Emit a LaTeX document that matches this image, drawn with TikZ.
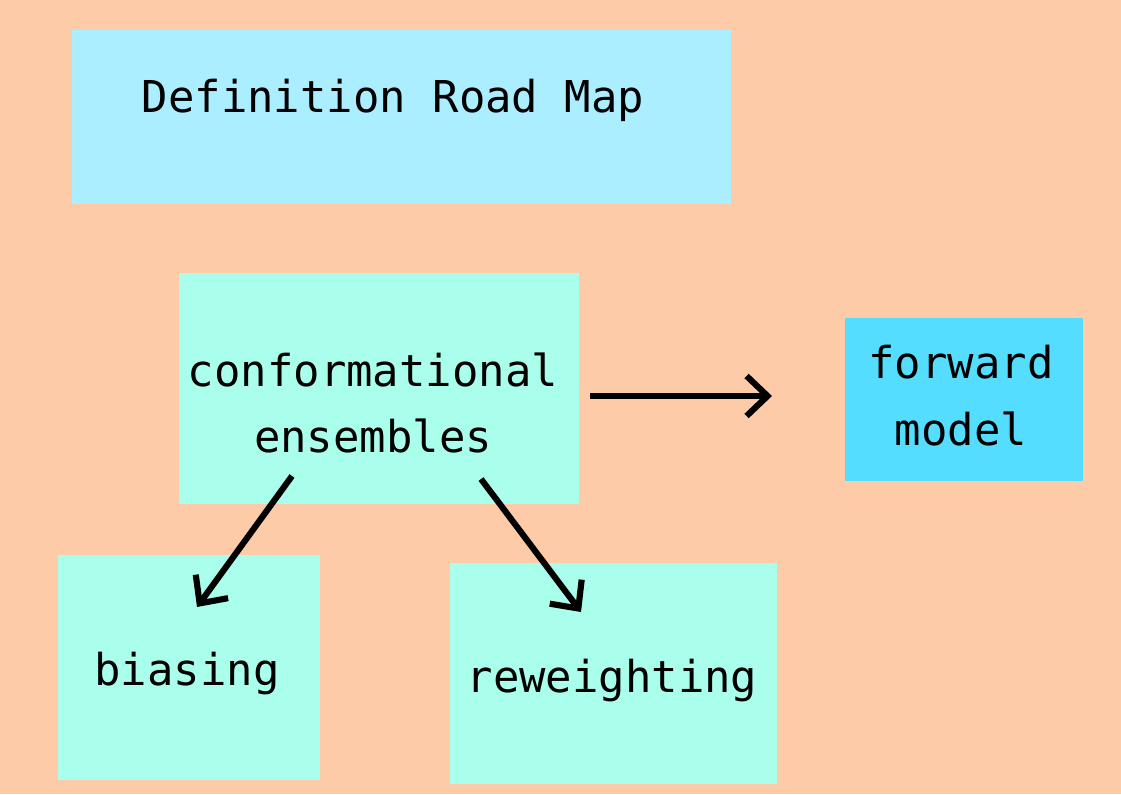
\documentclass[tikz,border=0pt]{standalone}
\usepackage{fontspec}
\setmonofont{DejaVu Sans Mono}
\usetikzlibrary{arrows.meta}

\definecolor{peach}{HTML}{FDCBA8}
\definecolor{titlecyan}{HTML}{AAEEFF}
\definecolor{mint}{HTML}{AAFFEC}
\definecolor{skyblue}{HTML}{55DDFF}

\tikzset{
  box/.style={inner sep=0pt, outer sep=0pt},
  label/.style={font=\ttfamily\fontsize{25}{38}\selectfont, align=center, inner sep=0pt},
  flow/.style={line width=3.5pt, -{Straight Barb[length=0.42cm, width=0.8cm, line width=3.5pt]}}
}

\begin{document}
\begin{tikzpicture}[x=0.02cm, y=-0.02cm]
      % page
      \fill[peach] (0,0) rectangle (1121,794);
      \useasboundingbox (0,0) rectangle (1121,794);
      % boxes
      \fill[titlecyan] (72,30) rectangle (731,204);
      \fill[mint] (179,273) rectangle (579,504);
      \fill[skyblue] (845,318) rectangle (1083,481);
      \fill[mint] (58,555) rectangle (320,780);
      \fill[mint] (450,563) rectangle (777,784);
      % texts
      \node[label] (title) at (393,100) {Definition Road Map};
      \node[label] (ensembles) at (373,403) {conformational\\ensembles};
      \node[label] (forward) at (961,396) {forward\\model};
      \node[label] (biasing) at (187,674) {biasing};
      \node[label] (reweight) at (612,681) {reweighting};
      % arrow ends
      \coordinate (ens-right) at (590,396);
      \coordinate (fwd-left) at (772,396);
      \coordinate (ens-left) at (292,476);
      \coordinate (bias-top) at (197,607);
      \coordinate (ens-low) at (481,479);
      \coordinate (rew-top) at (581,612);
      \draw[flow] (ens-right) -- (fwd-left);
      \draw[flow] (ens-left) -- (bias-top);
      \draw[flow] (ens-low) -- (rew-top);
    \end{tikzpicture}
\end{document}
